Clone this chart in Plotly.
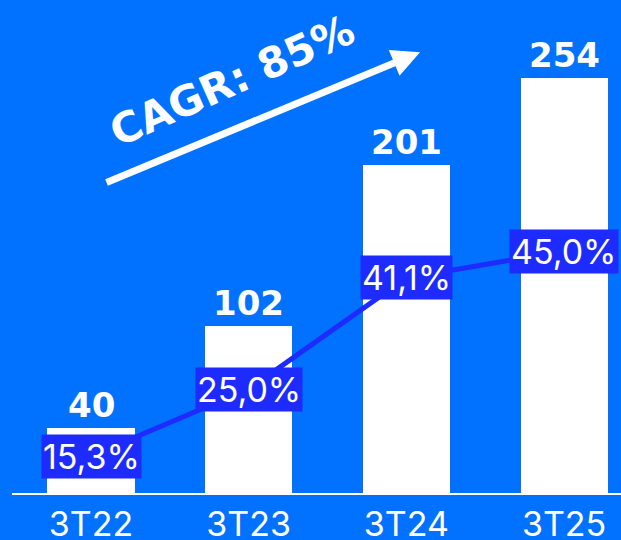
import plotly.graph_objects as go

categories = ["3T22", "3T23", "3T24", "3T25"]
bar_values = [40, 102, 201, 254]
pct_values = [15.3, 25.0, 41.1, 45.0]
pct_labels = ["15,3%", "25,0%", "41,1%", "45,0%"]
cagr_text = "CAGR: 85%"

BG = "#0072FF"
DARK = "#1E2BFF"
WHITE = "#FFFFFF"

xpos = list(range(len(categories)))

fig = go.Figure()
fig.add_trace(go.Bar(
    x=xpos, y=bar_values, width=0.552,
    marker=dict(color=WHITE, line=dict(width=0)),
    hoverinfo="skip", showlegend=False,
))
fig.add_trace(go.Scatter(
    x=xpos, y=pct_values, yaxis="y2", mode="lines",
    line=dict(color=DARK, width=5),
    hoverinfo="skip", showlegend=False,
))

annotations = []
for xi, v in zip(xpos, bar_values):
    annotations.append(dict(
        x=xi, y=v, xref="x", yref="y", text=str(v), showarrow=False,
        yanchor="bottom", yshift=1,
        font=dict(family="DejaVu Sans", size=34, color=WHITE, weight="bold"),
    ))
for xi, v, t in zip(xpos, pct_values, pct_labels):
    annotations.append(dict(
        x=xi, y=v, xref="x", yref="y2", text=t, showarrow=False,
        bgcolor=DARK, borderpad=1,
        font=dict(family="Inter", size=34, color=WHITE),
    ))
# CAGR arrow and text
annotations.append(dict(
    x=0.67, y=0.932, xref="paper", yref="paper", ax=-315, ay=131,
    showarrow=True, arrowhead=2, arrowsize=0.8, arrowwidth=7, arrowcolor=WHITE,
    text="",
))
annotations.append(dict(
    x=0.362, y=0.872, xref="paper", yref="paper", text=cagr_text,
    xanchor="center", yanchor="middle",
    showarrow=False, textangle=-24,
    font=dict(family="DejaVu Sans", size=42, color=WHITE, weight="bold"),
))

fig.update_layout(
    width=621, height=540,
    paper_bgcolor=BG, plot_bgcolor=BG,
    margin=dict(l=12, r=0, t=20, b=47, autoexpand=False),
    bargap=0,
    xaxis=dict(
        tickmode="array", tickvals=xpos, ticktext=categories,
        range=[-0.501, 3.361], showgrid=False, zeroline=False,
        showline=True, linecolor=WHITE, linewidth=2,
        ticks="", automargin=False,
        tickfont=dict(family="Inter", size=34, color=WHITE),
    ),
    yaxis=dict(range=[0, 289.5], visible=False, showgrid=False, automargin=False),
    yaxis2=dict(range=[9.94, 78.49], overlaying="y", visible=False, showgrid=False,
                automargin=False),
    annotations=annotations,
)

fig.write_html(
    "out.html",
    config={"displayModeBar": False},
    post_script="document.body.style.margin='0';document.body.style.overflow='hidden';",
)
